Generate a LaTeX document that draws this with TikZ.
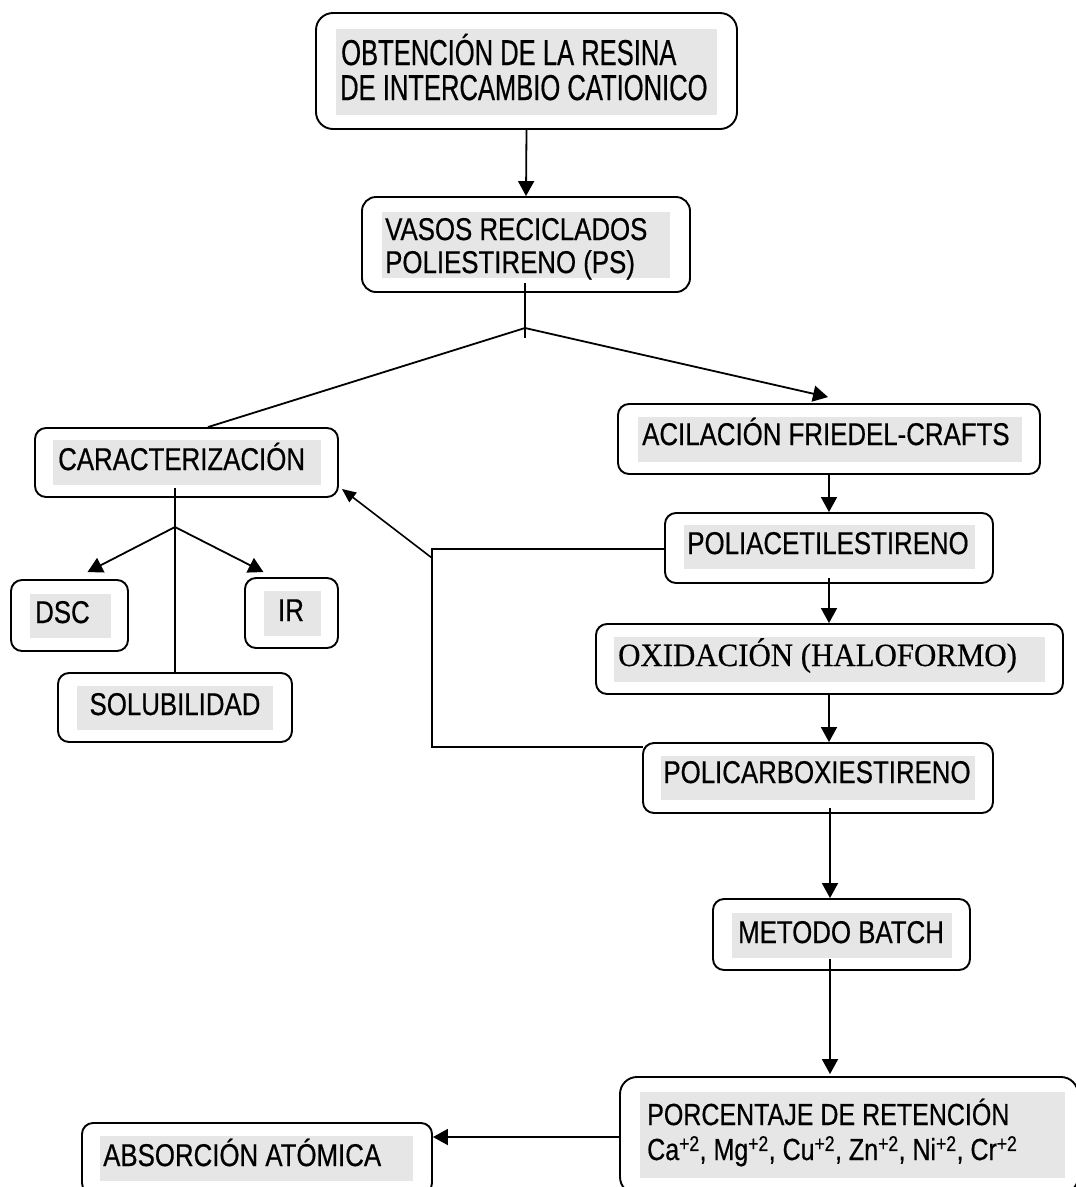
\documentclass[tikz,border=0pt]{standalone}
\usepackage{fontspec}
\usetikzlibrary{arrows.meta,calc}
\newfontfamily\narrowsans{Liberation Sans}[FakeStretch=0.82,FakeBold=0.5]
\newfontfamily\topsans{Liberation Sans}[FakeStretch=0.71,FakeBold=0.5]
\newfontfamily\timesf{Liberation Serif}[FakeStretch=0.95,FakeBold=0.4]
\definecolor{hlgray}{RGB}{230,230,230}
\tikzset{
  box/.style={draw, line width=1.9pt, rounded corners=11pt, inner sep=0pt},
  hl/.style={fill=hlgray, inner sep=0pt},
  txt/.style={inner sep=0pt, font=\narrowsans\fontsize{31.5}{33}\selectfont},
  toptxt/.style={inner sep=0pt, font=\topsans\fontsize{36}{35}\selectfont},
  sertxt/.style={inner sep=0pt, font=\timesf\fontsize{32.5}{33}\selectfont},
  conn/.style={line width=1.8pt},
  arr/.style={line width=1.8pt, -{Triangle[length=15pt,width=16pt]}},
  sarr/.style={line width=1.6pt, -{Triangle[length=14pt,width=12pt]}}
}
\begin{document}
\begin{tikzpicture}[x=1pt,y=-1pt]
\useasboundingbox (0,0) rectangle (1076,1187);
\clip (0,0) rectangle (1076,1187);
% boxes
\node[box, rounded corners=17pt, minimum width=421pt, minimum height=116pt] (top) at (526.5,71) {};
\node[box, rounded corners=14pt, minimum width=328pt, minimum height=95pt] (vasos) at (526,244.5) {};
\node[box, minimum width=303pt, minimum height=69pt] (caract) at (186.5,462.5) {};
\node[box, minimum width=422pt, minimum height=70pt] (acil) at (829,439) {};
\node[box, minimum width=117pt, minimum height=71pt] (dsc) at (69.5,615.5) {};
\node[box, minimum width=93pt, minimum height=70pt] (ir) at (291.5,613) {};
\node[box, minimum width=234pt, minimum height=69pt] (solub) at (175,707.5) {};
\node[box, minimum width=328pt, minimum height=70pt] (poliacet) at (829,548) {};
\node[box, minimum width=467pt, minimum height=70pt] (oxid) at (829.5,659) {};
\node[box, minimum width=350pt, minimum height=70pt] (policarb) at (818,778) {};
\node[box, minimum width=257pt, minimum height=71pt] (metodo) at (841.5,934.5) {};
\node[box, rounded corners=17pt, minimum width=458pt, minimum height=117pt] (porc) at (849,1135.5) {};
\node[box, minimum width=350pt, minimum height=71pt] (abs) at (257,1158.5) {};
% grey highlights
\node[hl, minimum width=381pt, minimum height=86pt] (topG) at (526.5,72) {};
\node[hl, minimum width=288pt, minimum height=66pt] (vasosG) at (526,245) {};
\node[hl, minimum width=268pt, minimum height=45pt] (caractG) at (187,462.5) {};
\node[hl, minimum width=384pt, minimum height=45pt] (acilG) at (830,439.5) {};
\node[hl, minimum width=81pt, minimum height=44pt] (dscG) at (70.5,616) {};
\node[hl, minimum width=57pt, minimum height=45pt] (irG) at (292.5,613.5) {};
\node[hl, minimum width=196pt, minimum height=44pt] (solubG) at (175,708) {};
\node[hl, minimum width=291pt, minimum height=44pt] (poliacetG) at (829.5,547) {};
\node[hl, minimum width=431pt, minimum height=45pt] (oxidG) at (829.5,659.5) {};
\node[hl, minimum width=314pt, minimum height=44pt] (policarbG) at (818,778) {};
\node[hl, minimum width=220pt, minimum height=45pt] (metodoG) at (842,935.5) {};
\node[hl, minimum width=425pt, minimum height=86pt] (porcG) at (852.5,1135) {};
\node[hl, minimum width=313pt, minimum height=45pt] (absG) at (256.5,1158.5) {};
% texts
\node[toptxt, anchor=base west] (topT1) at (341,65) {OBTENCIÓN DE LA RESINA};
\node[toptxt, anchor=base west] (topT2) at (340,100) {DE INTERCAMBIO CATIONICO};
\node[txt, anchor=base west] (vasosT1) at (385,240) {VASOS RECICLADOS};
\node[txt, anchor=base west] (vasosT2) at (385,273) {POLIESTIRENO (PS)};
\node[txt, anchor=base west] (caractT) at (58,470) {CARACTERIZACIÓN};
\node[txt, anchor=base west] (acilT) at (642,445) {ACILACIÓN FRIEDEL-CRAFTS};
\node[txt, anchor=base west] (dscT) at (35,623) {DSC};
\node[txt, anchor=base] (irT) at (291,621) {IR};
\node[txt, anchor=base] (solubT) at (175,715) {SOLUBILIDAD};
\node[txt, anchor=base] (poliacetT) at (828,554) {POLIACETILESTIRENO};
\node[sertxt, anchor=base west] (oxidT) at (618,666) {OXIDACIÓN (HALOFORMO)};
\node[txt, anchor=base] (policarbT) at (817,783) {POLICARBOXIESTIRENO};
\node[txt, anchor=base] (metodoT) at (841,943) {METODO BATCH};
\node[txt, font=\narrowsans\fontsize{30.5}{33}\selectfont, anchor=base west] (porcT1) at (647,1125) {PORCENTAJE DE RETENCIÓN};
\node[txt, font=\narrowsans\fontsize{30.5}{33}\selectfont, anchor=base west] (porcT2) at (647,1160) {Ca\textsuperscript{+2}, Mg\textsuperscript{+2}, Cu\textsuperscript{+2}, Zn\textsuperscript{+2}, Ni\textsuperscript{+2}, Cr\textsuperscript{+2}};
\node[txt, anchor=base west] (absT) at (103,1166) {ABSORCIÓN ATÓMICA};
% helper coordinates
\coordinate (colx) at (829,0);
\coordinate (vstart) at (525,283);
\coordinate (J1) at (525,328);
\coordinate (vend) at (525,338);
\coordinate (cstart) at (175,488);
\coordinate (J2) at (175,527);
\coordinate (fbx) at (432,0);
\coordinate (fbD) at (432,558);
\coordinate (porcY) at (0,1137);
% connectors
\draw[arr] (top.south) -- (vasos.north);
\draw[conn] (vstart) -- (vend);
\draw[conn] (J1) -- ($(caract.north)+(21.5,0)$);
\draw[arr] (J1) -- ($(acil.north)+(-1,-6)$);
\draw[conn] (cstart) -- (solub.north);
\draw[arr] (J2) -- ($(dsc.north)+(18,-7)$);
\draw[arr] (J2) -- ($(ir.north)+(-28,-5)$);
\draw[arr] (acil.south -| colx) -- (poliacet.north -| colx);
\draw[arr] ($(poliacet.south -| colx)+(0,-6)$) -- (oxid.north -| colx);
\draw[arr] (oxid.south -| colx) -- (policarb.north -| colx);
\draw[arr] ($(policarb.south)+(12,-6)$) -- ($(metodo.north)+(-11.5,0)$);
\draw[arr] ($(metodo.south)+(-11.5,-12)$) -- ($(porc.north)+(-19,-2)$);
\draw[arr] (porc.west |- porcY) -- (abs.east |- porcY);
\draw[conn, line width=1.6pt] ($(poliacet.west)+(0,1)$) -- ($(poliacet.west -| fbx)+(0,1)$) -- ($(policarb.north -| fbx)+(0,5)$) -- ($(policarb.north west)+(1,5)$);
\draw[sarr] (fbD) -- ($(caract.south east)+(3,-9)$);
\end{tikzpicture}
\end{document}
